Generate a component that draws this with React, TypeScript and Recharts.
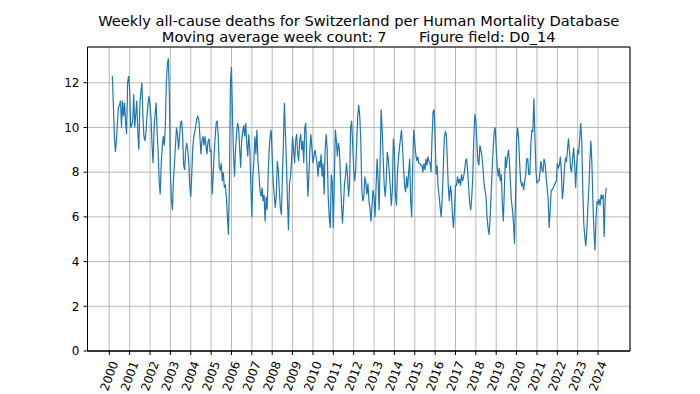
import { CartesianGrid, Line, LineChart, ReferenceArea, XAxis, YAxis } from "recharts";

// weekly deaths (7-week moving average), 20 samples per year
const samplesPerYear = 20;

const deaths2000 = [null, null, null, 12.3, 11.0, 9.6, 8.9, 9.4, 10.2, 10.9, 11.0, 11.2, 10.0, 11.2, 10.5, 11.1, 10.2, 9.7, 12.0, 12.3];
const deaths2001 = [11.7, 10.0, 10.1, 10.3, 11.5, 10.0, 10.6, 11.2, 9.8, 9.0, 11.0, 11.6, 12.0, 10.5, 9.6, 9.4, 9.8, 10.5, 11.0, 11.4];
const deaths2002 = [11.0, 10.4, 9.2, 8.4, 10.0, 10.6, 11.1, 9.8, 8.9, 7.6, 7.0, 8.4, 9.1, 9.6, 9.2, 10.0, 12.0, 12.8, 13.1, 11.5];
const deaths2003 = [8.0, 6.8, 6.3, 7.6, 8.4, 9.2, 10.0, 9.7, 9.0, 9.6, 10.2, 10.3, 9.7, 8.3, 8.1, 9.0, 9.3, 9.0, 8.5, 7.4];
const deaths2004 = [6.9, 7.9, 9.1, 9.6, 9.8, 10.1, 10.4, 10.5, 10.3, 9.6, 8.8, 9.4, 9.6, 9.2, 9.6, 9.2, 8.8, 9.4, 9.5, 8.9];
const deaths2005 = [9.0, 7.0, 7.8, 8.8, 9.6, 10.2, 10.3, 9.6, 8.2, 8.1, 8.4, 7.6, 8.0, 7.3, 7.4, 6.9, 6.0, 5.2, 7.5, 12.0];
const deaths2006 = [12.7, 10.5, 8.8, 7.8, 9.0, 9.7, 10.2, 10.0, 9.1, 8.2, 9.4, 9.8, 10.1, 9.6, 10.2, 9.3, 8.7, 9.7, 9.0, 7.5];
const deaths2007 = [6.0, 7.8, 8.5, 9.6, 8.8, 9.9, 8.5, 7.9, 7.2, 6.9, 7.3, 6.7, 7.0, 5.8, 6.9, 6.3, 7.8, 9.0, 9.6, 9.9];
const deaths2008 = [8.7, 7.5, 7.0, 6.4, 6.9, 8.5, 8.1, 7.2, 6.4, 6.1, 7.8, 9.3, 11.1, 9.7, 8.4, 6.7, 5.4, 7.5, 7.8, 8.5];
const deaths2009 = [9.6, 9.0, 8.4, 9.4, 9.7, 8.8, 8.5, 9.4, 9.7, 9.0, 9.4, 8.4, 10.0, 10.2, 8.4, 6.9, 7.8, 9.0, 9.7, 9.1];
const deaths2010 = [8.4, 8.7, 9.0, 8.7, 8.4, 7.8, 8.5, 8.2, 8.8, 7.8, 8.4, 7.0, 9.0, 9.7, 9.0, 6.9, 6.0, 5.5, 7.9, 7.6];
const deaths2011 = [5.5, 7.5, 9.9, 9.4, 8.7, 9.3, 9.0, 7.8, 6.6, 5.7, 6.5, 7.5, 7.8, 8.4, 7.8, 6.9, 7.5, 10.0, 10.3, 9.3];
const deaths2012 = [8.2, 7.6, 8.1, 9.3, 10.5, 11.0, 10.5, 9.4, 7.2, 6.7, 6.9, 7.8, 7.5, 7.0, 7.5, 6.7, 6.4, 5.8, 6.5, 7.2];
const deaths2013 = [6.9, 6.0, 7.3, 8.6, 7.7, 6.3, 8.5, 10.8, 9.9, 8.6, 7.4, 6.9, 7.6, 8.9, 8.6, 8.0, 7.3, 6.5, 7.2, 9.5];
const deaths2014 = [9.0, 7.0, 6.5, 8.0, 8.6, 9.1, 9.5, 9.9, 9.1, 8.2, 7.4, 7.1, 7.8, 7.3, 8.0, 8.6, 6.7, 6.0, 8.3, 9.9];
const deaths2015 = [9.3, 8.8, 8.5, 8.7, 8.4, 8.4, 8.3, 8.3, 8.0, 8.4, 8.1, 8.6, 8.3, 8.7, 8.5, 8.4, 8.0, 9.6, 10.7, 10.8];
const deaths2016 = [9.5, 7.9, 8.3, 7.3, 6.9, 6.4, 6.0, 6.9, 8.1, 9.5, 9.8, 9.7, 8.5, 7.3, 6.7, 7.4, 7.1, 6.1, 5.5, 6.2];
const deaths2017 = [7.4, 7.4, 7.8, 7.5, 7.7, 7.4, 7.9, 7.6, 7.8, 8.1, 8.5, 8.6, 8.0, 7.3, 6.6, 6.3, 6.9, 7.8, 9.5, 10.6];
const deaths2018 = [10.3, 9.3, 8.5, 8.3, 9.2, 9.0, 8.7, 8.2, 7.5, 7.2, 6.9, 6.0, 5.5, 5.2, 5.9, 7.0, 8.1, 9.0, 9.8, 10.0];
const deaths2019 = [9.1, 8.2, 7.8, 8.2, 7.6, 7.9, 6.6, 5.8, 7.2, 8.7, 8.2, 8.7, 9.0, 8.5, 7.5, 6.7, 6.3, 5.7, 4.8, 7.0];
const deaths2020 = [9.5, 10.0, 9.5, 8.4, 7.6, 7.4, 7.5, 7.2, 7.6, 7.9, 8.6, 8.6, 7.9, 7.9, 9.2, 9.9, 9.8, 11.3, 9.6, 8.1];
const deaths2021 = [7.5, 7.6, 7.6, 8.0, 8.5, 8.1, 8.0, 8.6, 8.4, 7.8, 7.3, 6.8, 5.5, 6.3, 7.2, 7.2, 7.3, 7.4, 7.5, 7.6];
const deaths2022 = [8.4, 8.2, 8.3, 8.7, 8.0, 6.8, 7.3, 8.2, 8.6, 8.5, 9.0, 9.5, 8.9, 8.2, 8.0, 8.6, 9.1, 8.4, 7.3, 8.3];
const deaths2023 = [9.0, 8.8, 9.5, 10.2, 9.4, 7.3, 5.7, 5.1, 4.7, 5.4, 6.4, 7.3, 8.5, 9.4, 8.4, 6.6, 5.4, 4.5, 5.9, 6.7];
const deaths2024 = [6.6, 6.8, 6.5, 7.0, 6.8, 7.0, 5.1, 6.8, 7.3];

const yearTicks = [2000, 2001, 2002, 2003, 2004, 2005, 2006, 2007, 2008, 2009, 2010, 2011, 2012,
  2013, 2014, 2015, 2016, 2017, 2018, 2019, 2020, 2021, 2022, 2023, 2024];
const valueTicks = [0, 2, 4, 6, 8, 10, 12];

const xDomain: [number, number] = [1998.93, 2025.57];
const yDomain: [number, number] = [0, 13.6];

const byYear: [number, (number | null)[]][] = [
  [2000, deaths2000], [2001, deaths2001], [2002, deaths2002], [2003, deaths2003], [2004, deaths2004],
  [2005, deaths2005], [2006, deaths2006], [2007, deaths2007], [2008, deaths2008], [2009, deaths2009],
  [2010, deaths2010], [2011, deaths2011], [2012, deaths2012], [2013, deaths2013], [2014, deaths2014],
  [2015, deaths2015], [2016, deaths2016], [2017, deaths2017], [2018, deaths2018], [2019, deaths2019],
  [2020, deaths2020], [2021, deaths2021], [2022, deaths2022], [2023, deaths2023], [2024, deaths2024],
];

const data = byYear
  .flatMap(([year, values]) => values.map((v, i) => ({ t: year + i / samplesPerYear, v })))
  .filter((d) => d.v !== null);

const font = "'DejaVu Sans', sans-serif";

function YearTick(props: any) {
  const { x, y, payload } = props;
  const cy = y + 17;
  return (
    <text
      x={x}
      y={cy}
      transform={`rotate(-70 ${x} ${cy})`}
      textAnchor="middle"
      dominantBaseline="central"
      fontSize={12}
      fontFamily={font}
      fill="#000"
    >
      {payload.value}
    </text>
  );
}

const titleStyle: React.CSSProperties = {
  position: "absolute",
  left: 87.5,
  width: 542.5,
  textAlign: "center",
  fontFamily: font,
  fontSize: 14.6,
  lineHeight: "17px",
  whiteSpace: "pre",
};

export default function App() {
  return (
    <div style={{ position: "absolute", left: 0, top: 0, width: 700, height: 394, background: "#fff" }}>
      <div style={{ ...titleStyle, top: 12 }}>
        Weekly all-cause deaths for Switzerland per Human Mortality Database
      </div>
      <div style={{ ...titleStyle, top: 27.5 }}>
        {"Moving average week count: 7       Figure field: D0_14"}
      </div>
      <LineChart width={700} height={394} data={data} margin={{ top: 47, right: 70, bottom: 0, left: 0 }}>
        <CartesianGrid stroke="#b0b0b0" strokeWidth={0.9} />
        <XAxis
          dataKey="t"
          type="number"
          domain={xDomain}
          ticks={yearTicks}
          interval={0}
          height={43}
          tick={<YearTick />}
          tickSize={4}
          tickMargin={4}
          tickLine={{ stroke: "#000" }}
          axisLine={{ stroke: "#000" }}
          allowDataOverflow
        />
        <YAxis
          domain={yDomain}
          ticks={valueTicks}
          width={87.5}
          tickSize={4}
          tickMargin={4}
          tick={{ fill: "#000", fontSize: 12, fontFamily: font }}
          tickLine={{ stroke: "#000" }}
          axisLine={{ stroke: "#000" }}
          allowDataOverflow
        />
        <Line dataKey="v" type="linear" stroke="#1f77b4" strokeWidth={1.2} dot={false} isAnimationActive={false} />
        <ReferenceArea
          x1={xDomain[0]}
          x2={xDomain[1]}
          y1={yDomain[0]}
          y2={yDomain[1]}
          fill="none"
          fillOpacity={0}
          stroke="#000"
          strokeWidth={1}
          ifOverflow="visible"
        />
      </LineChart>
    </div>
  );
}
